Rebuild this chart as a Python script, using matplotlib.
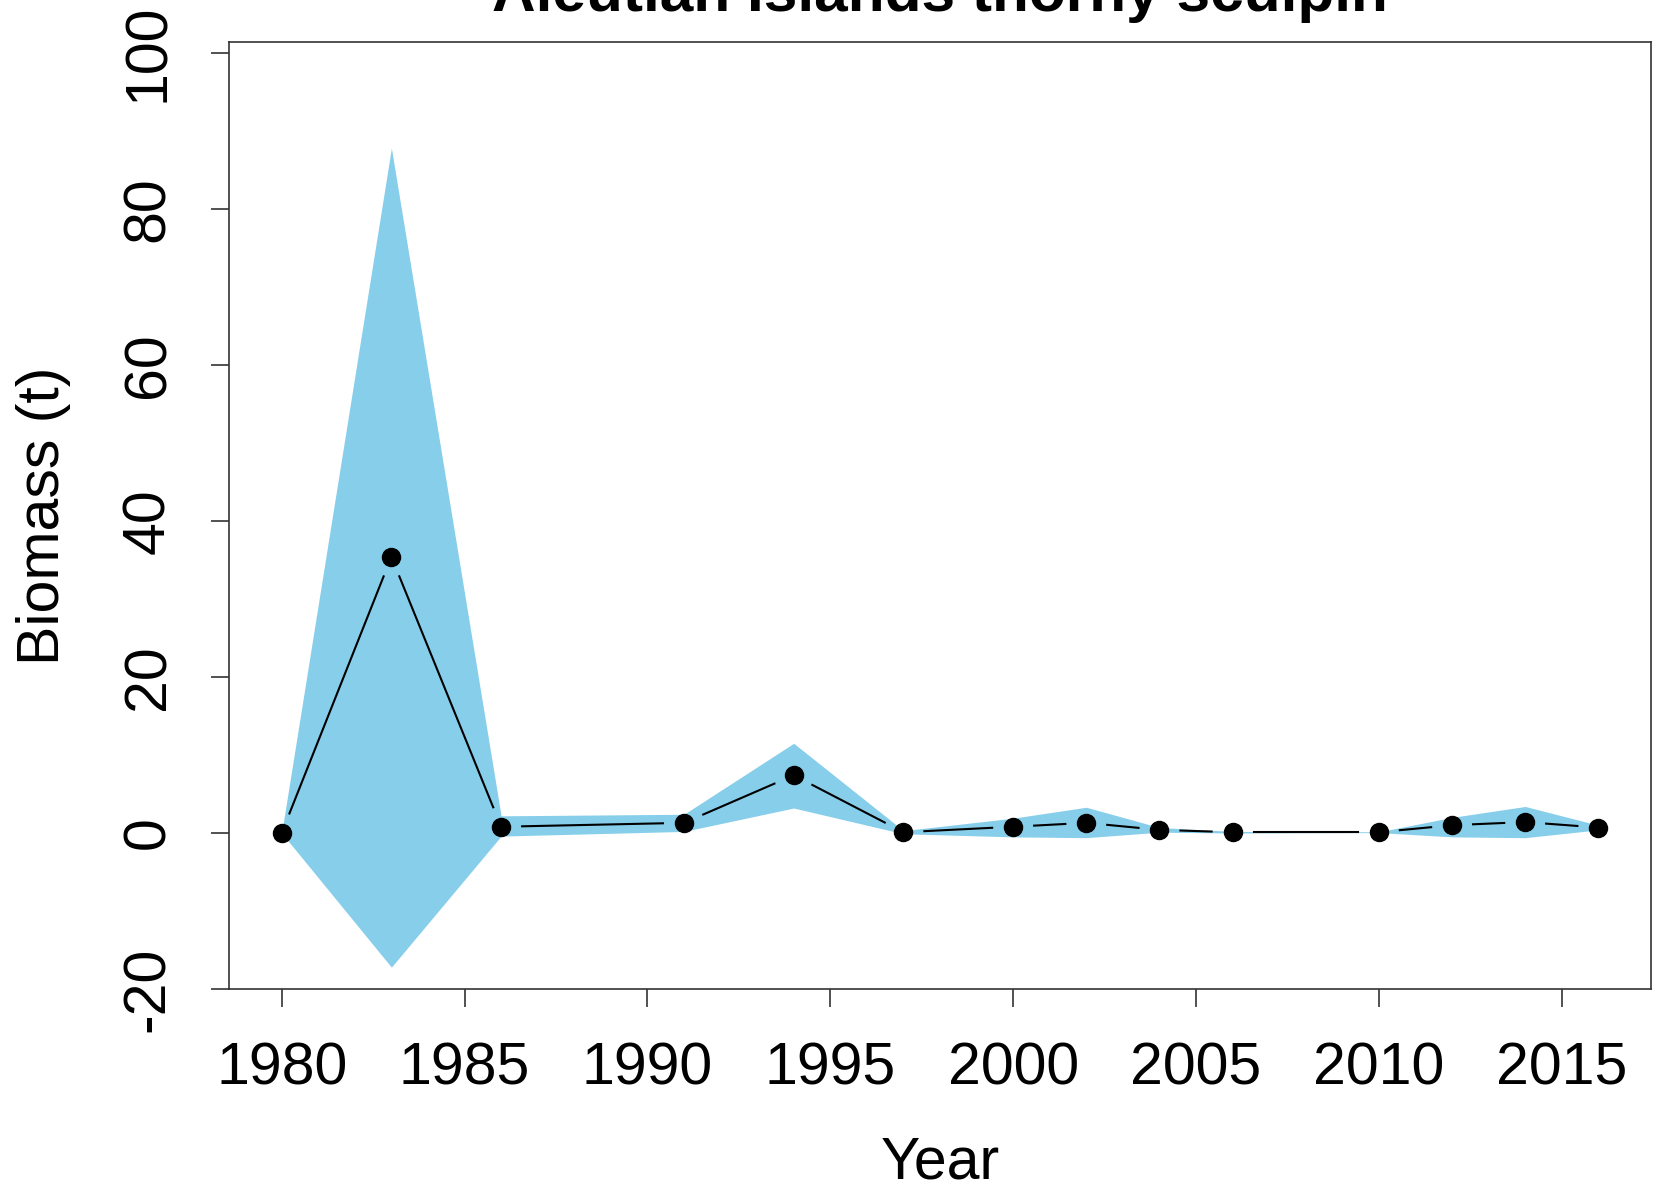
import numpy as np
import matplotlib
matplotlib.use("Agg")
import matplotlib.pyplot as plt

# survey biomass estimates with confidence band
years = [1980, 1983, 1986, 1991, 1994, 1997, 2000, 2002, 2004, 2006, 2010, 2012, 2014, 2016]
biomass = [0.0, 35.4, 0.8, 1.3, 7.4, 0.1, 0.8, 1.3, 0.4, 0.1, 0.1, 1.0, 1.4, 0.7]
upper = [0.0, 87.8, 2.2, 2.4, 11.5, 0.3, 1.9, 3.3, 0.7, 0.2, 0.15, 2.0, 3.4, 1.0]
lower = [0.0, -17.2, -0.4, 0.2, 3.2, -0.1, -0.5, -0.6, 0.1, 0.0, 0.05, -0.5, -0.6, 0.4]
xticks = [1980, 1985, 1990, 1995, 2000, 2005, 2010, 2015]
yticks = [-20, 0, 20, 40, 60, 80, 100]

plt.rcParams['font.family'] = ['Liberation Sans', 'DejaVu Sans']

W, H = 1654, 1193
fig = plt.figure(figsize=(W / 100, H / 100), dpi=100)
ax = fig.add_axes([229 / W, 1 - 989 / H, (1651 - 229) / W, (989 - 42) / H])

ax.set_xlim(1978.56, 2017.44)
ax.set_ylim(-20, 101.4)

ax.fill_between(years, lower, upper, color='skyblue', linewidth=0, zorder=1)

# R style type="b": line segments with a gap around each point
gap = 21
pts = ax.transData.transform(np.column_stack([years, biomass]))
inv = ax.transData.inverted()
for i in range(len(pts) - 1):
    p0, p1 = pts[i], pts[i + 1]
    d = p1 - p0
    L = np.hypot(*d)
    if L <= 2 * gap:
        continue
    u = d / L
    seg = inv.transform(np.array([p0 + u * gap, p1 - u * gap]))
    ax.plot(seg[:, 0], seg[:, 1], color='black', linewidth=1.5, zorder=2)

ax.plot(years, biomass, 'o', color='black', markersize=13, zorder=3)

ax.set_xticks(xticks)
ax.set_yticks(yticks)
ax.set_yticklabels([str(v) for v in yticks], rotation=90, va='center')
ax.tick_params(axis='both', direction='out', length=13, width=1.2,
               labelsize=42.5, pad=25, color='#333333')
for s in ax.spines.values():
    s.set_linewidth(1.2)
    s.set_color('#333333')

ax.set_xlabel('Year', fontsize=42.5, labelpad=28)
ax.set_ylabel('Biomass (t)', fontsize=42.5, labelpad=36)

fig.text(940 / W, 1 - 11 / H, 'Aleutian Islands thorny sculpin', fontsize=43.5,
         fontweight='bold', ha='center', va='baseline')

fig.savefig('out.png', dpi=100)
